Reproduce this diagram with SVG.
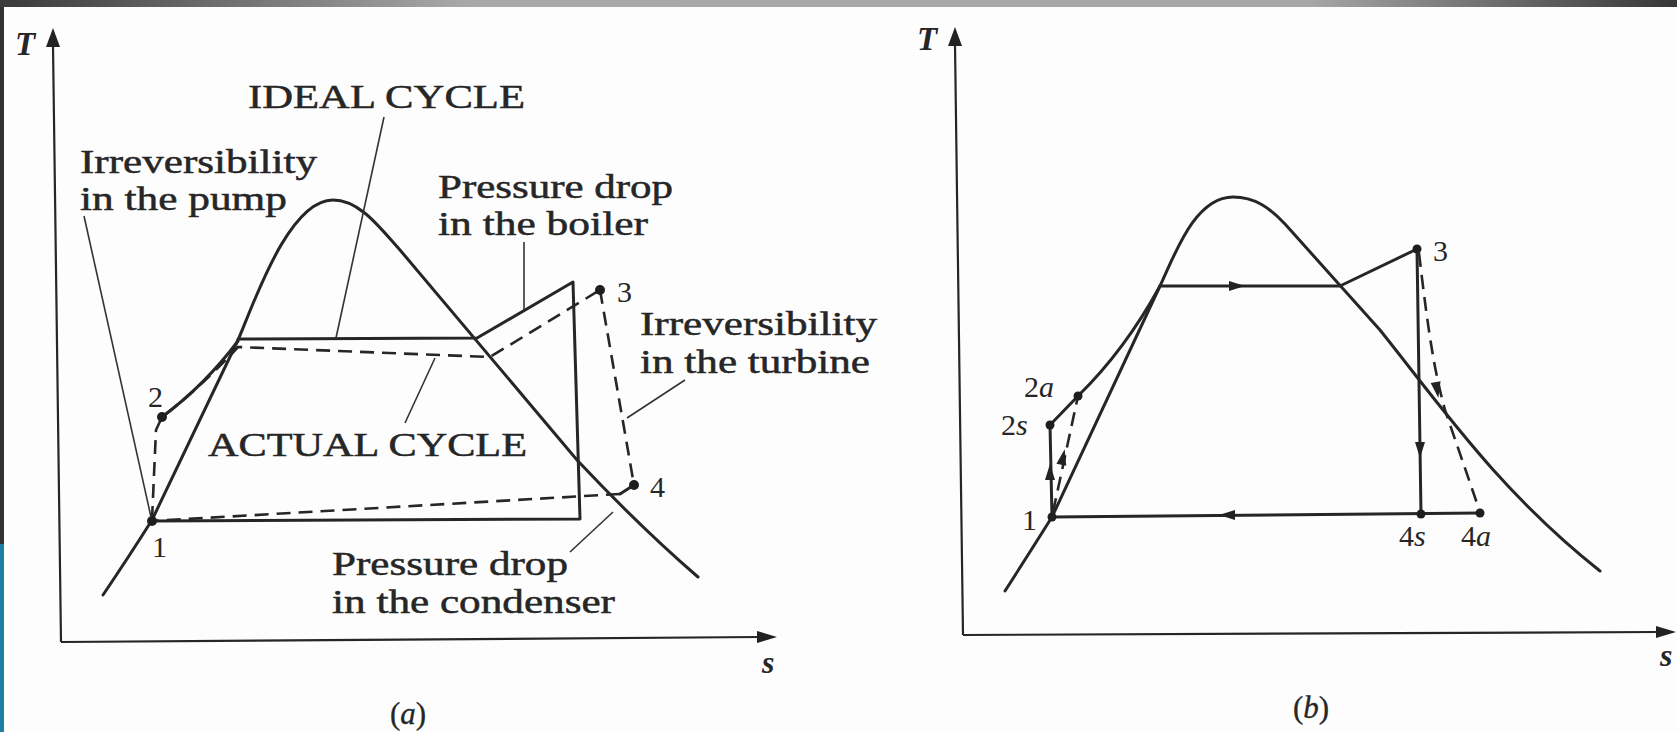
<svg xmlns="http://www.w3.org/2000/svg" width="1677" height="732" viewBox="0 0 1677 732">
<defs>
<linearGradient id="topbar" x1="0" y1="0" x2="1" y2="0">
<stop offset="0" stop-color="#3a3a3a"/>
<stop offset="0.28" stop-color="#a9a9a9"/>
<stop offset="0.78" stop-color="#a7a7a7"/>
<stop offset="1" stop-color="#363636"/>
</linearGradient>
<style>
.ln{fill:none;stroke:#262626;stroke-width:3;stroke-linejoin:round;stroke-linecap:round}
.ax{fill:none;stroke:#262626;stroke-width:2.2}
.ds{fill:none;stroke:#262626;stroke-width:2.6;stroke-dasharray:14 8}
.ld{fill:none;stroke:#333;stroke-width:1.6}
.dot{fill:#1e1e1e}
.ah{fill:#222}
.t{font-family:"Liberation Serif","Times New Roman",serif;font-size:34px;fill:#262626;stroke:#262626;stroke-width:0.5}
.n{font-family:"Liberation Serif","Times New Roman",serif;font-size:30px;fill:#262626}
.i{font-style:italic}
.b{font-weight:bold}
</style>
</defs>
<rect x="0" y="0" width="1677" height="732" fill="#fdfdfd"/>
<rect x="0" y="0" width="1677" height="7" fill="url(#topbar)"/>
<rect x="0" y="7" width="4" height="537" fill="#333"/>
<rect x="0" y="544" width="4" height="188" fill="#1b7ea3"/>

<g id="panel-a">
<g id="axes-a">
<line class="ax" x1="53" y1="45" x2="61" y2="642"/>
<polygon class="ah" points="53,28 46,47 60,47"/>
<line class="ax" x1="61" y1="642" x2="760" y2="637"/>
<polygon class="ah" points="777,637 757,631 757,643"/>
<text class="t i b" x="15" y="55" style="font-size:33px;stroke-width:0">T</text>
<text class="t i b" x="762" y="673" style="font-size:32px;stroke-width:0">s</text>
<text class="t" x="390" y="724" style="font-size:31px;stroke-width:0.3">(<tspan class="i">a</tspan>)</text>
</g>
<g id="dome-a">
<path class="ln" d="M103,595 Q130,555 152,520 L238,340 C253,306 288,200 333,200 C360,200 380,228 400,250 L577,460 Q640,527 698,577"/>
</g>
<g id="ideal-a">
<path class="ln" d="M238,339 L477,338 L573,282 L580,519 L152,521"/>
</g>
<g id="actual-a">
<path class="ln" d="M162,417 Q205,385 238,341"/>
<path class="ds" d="M152,520 L156,430 L162,417 Q200,388 238,347 L490,357 L600,290"/>
<path class="ds" d="M600,290 L634,485"/>
<line class="ln" x1="634" y1="485" x2="620" y2="494"/>
<path class="ds" d="M620,494 L152,521"/>
<circle class="dot" cx="152" cy="521" r="5"/>
<circle class="dot" cx="162" cy="417" r="5"/>
<circle class="dot" cx="600" cy="290" r="5"/>
<circle class="dot" cx="634" cy="485" r="5"/>
<text class="n" x="152" y="557">1</text>
<text class="n" x="148" y="407">2</text>
<text class="n" x="617" y="302">3</text>
<text class="n" x="650" y="497">4</text>
</g>
<g id="leaders-a">
<line class="ld" x1="384" y1="117" x2="336" y2="338"/>
<line class="ld" x1="84" y1="216" x2="151" y2="517"/>
<line class="ld" x1="524" y1="242" x2="524" y2="310"/>
<line class="ld" x1="685" y1="380" x2="627" y2="418"/>
<line class="ld" x1="435" y1="358" x2="405" y2="423"/>
<line class="ld" x1="570" y1="552" x2="613" y2="512"/>
</g>
<g id="labels-a">
<text class="t" x="248" y="108" textLength="277" lengthAdjust="spacingAndGlyphs">IDEAL CYCLE</text>
<text class="t" x="80" y="173" textLength="237" lengthAdjust="spacingAndGlyphs">Irreversibility</text>
<text class="t" x="80" y="210" textLength="207" lengthAdjust="spacingAndGlyphs">in the pump</text>
<text class="t" x="438" y="198" textLength="235" lengthAdjust="spacingAndGlyphs">Pressure drop</text>
<text class="t" x="438" y="235" textLength="210" lengthAdjust="spacingAndGlyphs">in the boiler</text>
<text class="t" x="640" y="335" textLength="237" lengthAdjust="spacingAndGlyphs">Irreversibility</text>
<text class="t" x="640" y="373" textLength="230" lengthAdjust="spacingAndGlyphs">in the turbine</text>
<text class="t" x="208" y="456" textLength="319" lengthAdjust="spacingAndGlyphs">ACTUAL CYCLE</text>
<text class="t" x="332" y="575" textLength="236" lengthAdjust="spacingAndGlyphs">Pressure drop</text>
<text class="t" x="332" y="613" textLength="283" lengthAdjust="spacingAndGlyphs">in the condenser</text>
</g>
</g>

<g id="panel-b">
<g id="axes-b">
<line class="ax" x1="955" y1="44" x2="963" y2="635"/>
<polygon class="ah" points="955,27 948,46 962,46"/>
<line class="ax" x1="963" y1="635" x2="1658" y2="632"/>
<polygon class="ah" points="1676,632 1656,626 1656,638"/>
<text class="t i b" x="917" y="50" style="font-size:33px;stroke-width:0">T</text>
<text class="t i b" x="1660" y="666" style="font-size:32px;stroke-width:0">s</text>
<text class="t" x="1293" y="718" style="font-size:31px;stroke-width:0.3">(<tspan class="i">b</tspan>)</text>
</g>
<g id="dome-b">
<path class="ln" d="M1005,591 Q1030,552 1052,517 L1160,286 C1175,254 1195,197 1233,197 C1255,197 1270,208 1285,224 L1380,330 C1440,405 1500,492 1600,571"/>
</g>
<g id="cycle-b">
<path class="ln" d="M1160,286 L1340,286 L1417,249 L1421,514"/>
<path class="ln" d="M1480,513 L1052,517 L1050,425 L1078,396 Q1125,350 1160,286"/>
<path class="ds" d="M1053,512 L1078,396"/>
<path class="ds" d="M1419,253 C1428,330 1434,370 1445,410 L1480,512"/>
<polygon class="ah" points="8,0 -8,-5 -8,5" transform="translate(1237,286)"/>
<polygon class="ah" points="8,0 -8,-5 -8,5" transform="translate(1420,450) rotate(90)"/>
<polygon class="ah" points="8,0 -8,-5 -8,5" transform="translate(1437,390) rotate(80)"/>
<polygon class="ah" points="8,0 -8,-5 -8,5" transform="translate(1227,515) rotate(180)"/>
<polygon class="ah" points="8,0 -8,-5 -8,5" transform="translate(1050,472) rotate(-90)"/>
<polygon class="ah" points="8,0 -8,-5 -8,5" transform="translate(1063,457) rotate(-78)"/>
<circle class="dot" cx="1078" cy="396" r="4.5"/>
<circle class="dot" cx="1050" cy="425" r="4.5"/>
<circle class="dot" cx="1052" cy="517" r="4.5"/>
<circle class="dot" cx="1417" cy="249" r="4.5"/>
<circle class="dot" cx="1421" cy="514" r="4.5"/>
<circle class="dot" cx="1480" cy="513" r="4.5"/>
</g>
<g id="labels-b">
<text class="n" x="1024" y="397">2<tspan class="i">a</tspan></text>
<text class="n" x="1001" y="435">2<tspan class="i">s</tspan></text>
<text class="n" x="1022" y="530">1</text>
<text class="n" x="1433" y="261">3</text>
<text class="n" x="1399" y="546">4<tspan class="i">s</tspan></text>
<text class="n" x="1461" y="546">4<tspan class="i">a</tspan></text>
</g>
</g>
</svg>
